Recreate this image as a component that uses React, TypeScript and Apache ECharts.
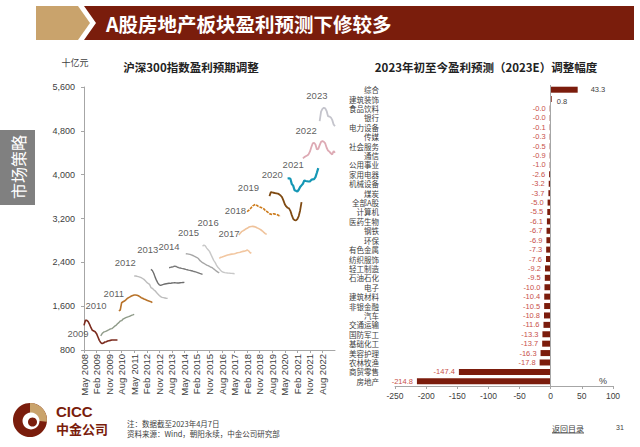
import React, { useEffect, useRef } from "react";
import * as echarts from "echarts";

// ---------- Left chart data (months counted from May 2008) ----------
const MONTH_NAMES = ["Jan", "Feb", "Mar", "Apr", "May", "Jun", "Jul", "Aug", "Sep", "Oct", "Nov", "Dec"];
const yearNames = ["2009", "2010", "2011", "2012", "2013", "2014", "2015", "2016", "2017", "2018", "2019", "2020", "2021", "2022", "2023"];
const startMonths = [0, 12, 25, 36, 48, 61, 73, 85, 97, 111, 117, 133, 146, 157, 169];

const y2009 = [1250, 1340, 1341, 1317, 1268, 1207, 1159, 1147, 1134, 1098, 1037, 976, 934, 916, 928, 946, 952, 964, 970, 976, 982, 982, 982, 982, 982];
const y2010 = [1060, 1100, 1125, 1134, 1145, 1159, 1170, 1185, 1190, 1210, 1235, 1250, 1280, 1300, 1329, 1335, 1365, 1378, 1390, 1400, 1408, 1420, 1432, 1440, 1450];
const y2011 = [1515, 1530, 1663, 1680, 1694, 1715, 1740, 1755, 1770, 1785, 1795, 1803, 1803, 1800, 1790, 1775, 1755, 1745, 1730, 1720, 1710, 1700, 1690, 1682, 1665];
const y2012 = [2150, 2150, 2145, 2138, 2131, 2120, 2105, 2089, 2065, 2035, 2015, 1998, 1940, 1925, 1900, 1880, 1850, 1820, 1795, 1775, 1760, 1755, 1750, 1745, 1742];
const y2013 = [2271, 2250, 2200, 2130, 2070, 2020, 1990, 1980, 1990, 1998, 2005, 2010, 2014, 2018, 2016, 2022, 2026, 2028, 2025, 2022, 2024, 2028, 2030, 2032, 2034];
const y2014 = [2302, 2308, 2314, 2320, 2330, 2325, 2310, 2302, 2296, 2290, 2285, 2278, 2271, 2265, 2258, 2253, 2247, 2241, 2232, 2225, 2218, 2208, 2198, 2190, 2180];
const y2015 = [2557, 2555, 2550, 2545, 2535, 2525, 2512, 2500, 2488, 2470, 2436, 2415, 2393, 2380, 2365, 2350, 2338, 2325, 2310, 2302, 2280, 2260, 2240, 2222, 2210];
const y2016 = [2697, 2715, 2700, 2660, 2630, 2600, 2545, 2490, 2436, 2400, 2350, 2310, 2285, 2250, 2229, 2218, 2212, 2208, 2205, 2203, 2200, 2198, 2195, 2192];
const y2017 = [2472, 2490, 2496, 2505, 2515, 2525, 2533, 2540, 2545, 2550, 2552, 2557, 2565, 2575, 2578, 2585, 2594, 2600, 2604, 2610, 2624, 2610, 2580, 2565];
const y2018 = [2898, 2930, 2960, 2975, 2990, 3010, 3020, 3040, 3050, 3055, 3056, 3052, 3045, 3031, 3020, 3005, 2990, 2971, 2945, 2925, 2910];
const y2019 = [3323, 3347, 3366, 3400, 3430, 3445, 3457, 3440, 3420, 3410, 3400, 3390, 3375, 3347, 3330, 3310, 3287, 3280, 3275, 3287, 3280, 3275, 3265, 3250, 3244];
const y2020 = [3609, 3682, 3675, 3670, 3665, 3660, 3655, 3640, 3620, 3591, 3530, 3460, 3420, 3396, 3385, 3340, 3262, 3195, 3170, 3165, 3190, 3244, 3347, 3500];
const y2021 = [3930, 3935, 3925, 3830, 3800, 3715, 3705, 3690, 3725, 3775, 3805, 3835, 3895, 3885, 3880, 3875, 3875, 3905, 3915, 3920, 3955, 4035, 4120];
const y2022 = [4296, 4320, 4335, 4350, 4369, 4420, 4500, 4570, 4582, 4550, 4460, 4470, 4540, 4600, 4612, 4600, 4570, 4491, 4440, 4420, 4390, 4369, 4430, 4400];
const y2023 = [4977, 5150, 5200, 5220, 5210, 5160, 5068, 5060, 5045, 5000, 4916, 4886];
const yearSeries = [y2009, y2010, y2011, y2012, y2013, y2014, y2015, y2016, y2017, y2018, y2019, y2020, y2021, y2022, y2023];

// year label anchors (month index, value)
const labelMonths = [-4.3, 8.6, 21.4, 29.6, 45.7, 61, 75, 89, 104, 108.6, 117.9, 135, 150, 159.3, 167];
const labelValues = [1110, 1621, 1840, 2406, 2629, 2698, 2937, 3120, 2919, 3337, 3757, 4012, 4194, 4806, 5440];

// ---------- Right chart data ----------
const industries = ["综合", "建筑装饰", "食品饮料", "银行", "电力设备", "传媒", "社会服务", "通信", "公用事业", "家用电器", "机械设备", "煤炭", "全部A股", "计算机", "医药生物", "钢铁", "环保", "有色金属", "纺织服饰", "轻工制造", "石油石化", "电子", "建筑材料", "非银金融", "汽车", "交通运输", "国防军工", "基础化工", "美容护理", "农林牧渔", "商贸零售", "房地产"];
const changes = [43.3, 0.8, -0.04, -0.02, -0.1, -0.3, -0.5, -0.9, -1.0, -2.6, -3.2, -3.7, -5.0, -5.5, -6.1, -6.7, -6.9, -7.3, -7.6, -9.2, -9.5, -10.0, -10.4, -10.5, -10.8, -11.6, -13.3, -13.7, -16.3, -17.8, -147.4, -214.8];

// ---------- styles ----------
const lineColors = ["#7B2B1E", "#8E9A88", "#B8732A", "#BDBDBD", "#6E6E6E", "#7A7A7A", "#A6A6A6", "#C8C8C8", "#F2C7A1", "#EFC29A", "#CC7A1A", "#7F4A12", "#1597B5", "#DDAAB4", "#C4C4CC"];
const lineWidths = [1.6, 1.4, 1.6, 1.4, 1.4, 1.4, 1.4, 1.4, 1.6, 1.6, 1.6, 1.8, 2.2, 1.8, 1.8];
const FONT = '"Liberation Sans", "Noto Sans CJK SC", sans-serif';
const CJK = '"Noto Sans CJK SC", "Liberation Sans", sans-serif';
const MAROON = "#7A1D0C";
const TAN = "#C9A36C";

export default function App() {
  const ref = useRef<HTMLDivElement>(null);

  useEffect(() => {
    document.body.style.margin = "0";
    const chart = echarts.init(ref.current!, null, { renderer: "svg" });

    const lineSeries = yearSeries.map((vals, i) => ({
      type: "line",
      name: yearNames[i],
      xAxisIndex: 0,
      yAxisIndex: 0,
      data: vals.map((v, k) => [startMonths[i] + k, v]),
      symbol: "none",
      showSymbol: false,
      lineStyle: { color: lineColors[i], width: lineWidths[i], type: i === 10 ? [3, 1] : "solid" },
      itemStyle: { color: lineColors[i] },
      z: 3,
    }));

    const labelSeries = {
      type: "scatter",
      xAxisIndex: 0,
      yAxisIndex: 0,
      clip: false,
      symbolSize: 1,
      itemStyle: { color: "rgba(0,0,0,0)" },
      data: labelMonths.map((m, i) => [m, labelValues[i]]),
      label: {
        show: true,
        position: "inside",
        formatter: (p: any) => yearNames[p.dataIndex],
        fontSize: 9.5,
        color: "#333",
        fontFamily: FONT,
      },
      z: 4,
    };

    const barSeries = {
      type: "bar",
      xAxisIndex: 1,
      yAxisIndex: 1,
      barWidth: 6,
      barMinHeight: 1,
      itemStyle: { color: "#7B1C0C" },
      data: changes.map((v) => ({
        value: v,
        label: {
          position: v < 0 ? "left" : "right",
          distance: v < 0 ? 4 : v > 10 ? 13 : 5,
          color: v < 0 ? "#C8504A" : "#404040",
          offset: v >= 0 && v < 10 ? [0, 2] : [0, 0],
        },
      })),
      label: {
        show: true,
        fontSize: 7.5,
        lineHeight: 8,
        fontFamily: FONT,
        formatter: (p: any) => (p.value as number).toFixed(1),
      },
      markLine: {
        silent: true,
        symbol: "none",
        label: { show: false },
        lineStyle: { color: "#A6A6A6", type: "solid", width: 1 },
        data: [{ xAxis: 0 }],
      },
    };

    const option: any = {
      animation: false,
      backgroundColor: "#ffffff",
      textStyle: { fontFamily: FONT },
      grid: [
        { left: 84, top: 87, width: 251, height: 263 },
        { left: 395, top: 85, width: 218, height: 301 },
      ],
      xAxis: [
        {
          type: "value",
          gridIndex: 0,
          min: 0,
          max: 180,
          interval: 9,
          splitLine: { show: false },
          axisLine: { show: true, onZero: false, lineStyle: { color: "#A6A6A6" } },
          axisTick: { show: true, length: 3, lineStyle: { color: "#A6A6A6" } },
          axisLabel: {
            rotate: 90,
            fontSize: 9.5,
            color: "#404040",
            margin: 4,
            showMaxLabel: false,
            formatter: (v: number) =>
              v > 171 ? "" : MONTH_NAMES[(4 + v) % 12] + " " + (2008 + Math.floor((4 + v) / 12)),
          },
        },
        {
          type: "value",
          gridIndex: 1,
          min: -250,
          max: 100,
          interval: 50,
          splitLine: { show: false },
          axisLine: { show: true, onZero: false, lineStyle: { color: "#A6A6A6" } },
          axisTick: { show: true, length: 3, lineStyle: { color: "#A6A6A6" } },
          axisLabel: { fontSize: 8.5, color: "#404040", margin: 6 },
        },
      ],
      yAxis: [
        {
          type: "value",
          gridIndex: 0,
          min: 800,
          max: 5600,
          interval: 800,
          splitLine: { show: false },
          axisLine: { show: true, lineStyle: { color: "#A6A6A6" } },
          axisTick: { show: true, length: 3, lineStyle: { color: "#A6A6A6" } },
          axisLabel: {
            fontSize: 9,
            color: "#404040",
            margin: 9,
            formatter: (v: number) => v.toLocaleString("en-US"),
          },
        },
        {
          type: "category",
          gridIndex: 1,
          data: industries,
          inverse: true,
          axisLine: { show: false, onZero: false },
          axisTick: { show: false },
          axisLabel: { interval: 0, fontSize: 7.5, color: "#404040", margin: 16, fontFamily: CJK, lineHeight: 8 },
        },
      ],
      series: [...lineSeries, labelSeries, barSeries],
      graphic: [
        // header banner
        { type: "polygon", shape: { points: [[36, 6], [78, 6], [90, 23], [78, 40], [36, 40]] }, style: { fill: TAN } },
        { type: "polygon", shape: { points: [[84, 6], [634, 6], [634, 40], [84, 40], [96, 23]] }, style: { fill: MAROON } },
        {
          type: "text",
          x: 106,
          y: 23,
          style: { text: "A股房地产板块盈利预测下修较多", fill: "#fff", font: `bold 19.5px ${CJK}`, verticalAlign: "middle" },
        },
        // side tab
        { type: "rect", shape: { x: 0, y: 130, width: 35, height: 75 }, style: { fill: "#808080" } },
        {
          type: "text",
          x: 18,
          y: 167,
          rotation: Math.PI / 2,
          style: { text: "市场策略", fill: "#fff", font: `16px ${CJK}`, align: "center", verticalAlign: "middle" },
        },
        // chart titles & units
        { type: "text", x: 75, y: 62, style: { text: "十亿元", fill: "#404040", font: `9px ${CJK}`, align: "center", verticalAlign: "middle" } },
        { type: "text", x: 191, y: 67, style: { text: "沪深300指数盈利预期调整", fill: "#222", font: `bold 11.5px ${CJK}`, align: "center", verticalAlign: "middle" } },
        { type: "text", x: 486, y: 67, style: { text: "2023年初至今盈利预测（2023E）调整幅度", fill: "#222", font: `bold 11.5px ${CJK}`, align: "center", verticalAlign: "middle" } },
        { type: "text", x: 603, y: 381, style: { text: "%", fill: "#404040", font: `9px ${FONT}`, align: "center", verticalAlign: "middle" } },
        // logo
        { type: "circle", shape: { cx: 30, cy: 420, r: 17 }, style: { fill: MAROON } },
        { type: "sector", shape: { cx: 30, cy: 420, r: 17, r0: 0, startAngle: -Math.PI / 2, endAngle: 0.1 }, style: { fill: TAN } },
        { type: "circle", shape: { cx: 31, cy: 421, r: 8.5 }, style: { fill: "#fff" } },
        { type: "circle", shape: { cx: 32.5, cy: 422, r: 4.5 }, style: { fill: MAROON } },
        { type: "text", x: 56, y: 411, style: { text: "CICC", fill: MAROON, font: `bold 15px ${FONT}`, verticalAlign: "middle" } },
        { type: "text", x: 56, y: 428.5, style: { text: "中金公司", fill: MAROON, font: `bold 13px ${CJK}`, verticalAlign: "middle" } },
        // notes
        { type: "text", x: 127, y: 423, style: { text: "注：数据截至2023年4月7日", fill: "#404040", font: `7.5px ${CJK}`, verticalAlign: "middle" } },
        { type: "text", x: 127, y: 433, style: { text: "资料来源：Wind，朝阳永续，中金公司研究部", fill: "#404040", font: `7.5px ${CJK}`, verticalAlign: "middle" } },
        { type: "text", x: 568, y: 428, style: { text: "返回目录", fill: "#404040", font: `8px ${CJK}`, align: "center", verticalAlign: "middle" } },
        { type: "line", shape: { x1: 552, y1: 433, x2: 584, y2: 433 }, style: { stroke: "#404040", lineWidth: 0.8 } },
        { type: "text", x: 620, y: 427, style: { text: "31", fill: "#404040", font: `7px ${FONT}`, align: "center", verticalAlign: "middle" } },
      ],
    };

    chart.setOption(option);
    return () => chart.dispose();
  }, []);

  return <div ref={ref} style={{ position: "absolute", left: 0, top: 0, width: 640, height: 447 }} />;
}
